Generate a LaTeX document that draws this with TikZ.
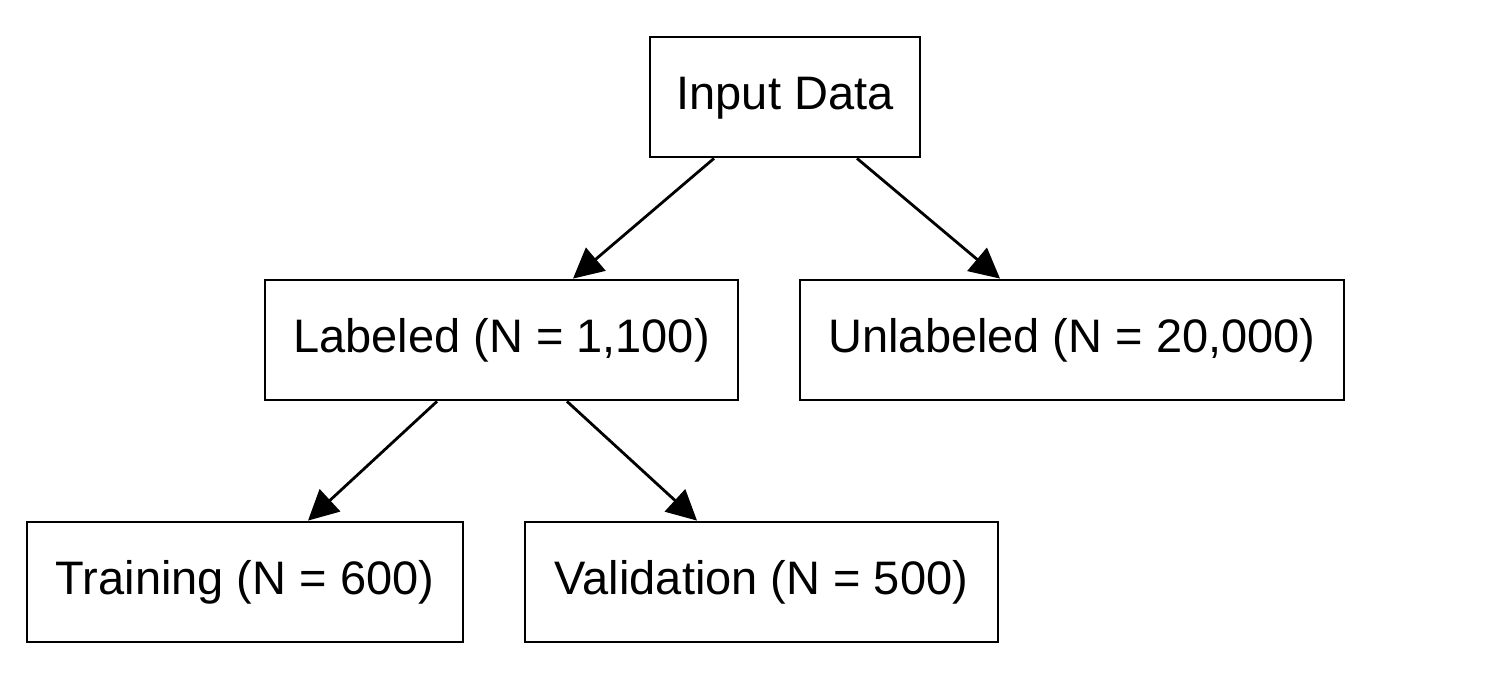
\documentclass[tikz,border=0pt]{standalone}
\usepackage{fontspec}
\setmainfont{Liberation Sans}
\usetikzlibrary{arrows.meta}
\begin{document}
\begin{tikzpicture}[x=1pt,y=-1pt,
  box/.style={draw,line width=2.8pt,inner sep=0pt,minimum height=120pt,text depth=12pt,text height=36pt,font=\fontsize{47}{56}\selectfont},
  arr/.style={line width=2.8pt,-{Triangle[length=30pt,width=30pt]}}]
\useasboundingbox (0,0) rectangle (1490,688);
\node[box,minimum width=270pt] (in) at (785,97) {Input Data};
\node[box,minimum width=473pt] (lab) at (501.5,340) {Labeled (N = 1,100)};
\node[box,minimum width=544pt] (unl) at (1072,340) {Unlabeled (N = 20,000)};
\node[box,minimum width=436pt] (tr) at (245,582) {Training (N = 600)};
\node[box,minimum width=473pt] (va) at (761.5,582) {Validation (N = 500)};
\draw[arr] ([xshift=-71pt]in.south) -- ([xshift=71.5pt]lab.north);
\draw[arr] ([xshift=72pt]in.south) -- ([xshift=-72pt]unl.north);
\draw[arr] ([xshift=-64.5pt]lab.south) -- ([xshift=63pt]tr.north);
\draw[arr] ([xshift=65.5pt]lab.south) -- ([xshift=-64.5pt]va.north);
\end{tikzpicture}
\end{document}
